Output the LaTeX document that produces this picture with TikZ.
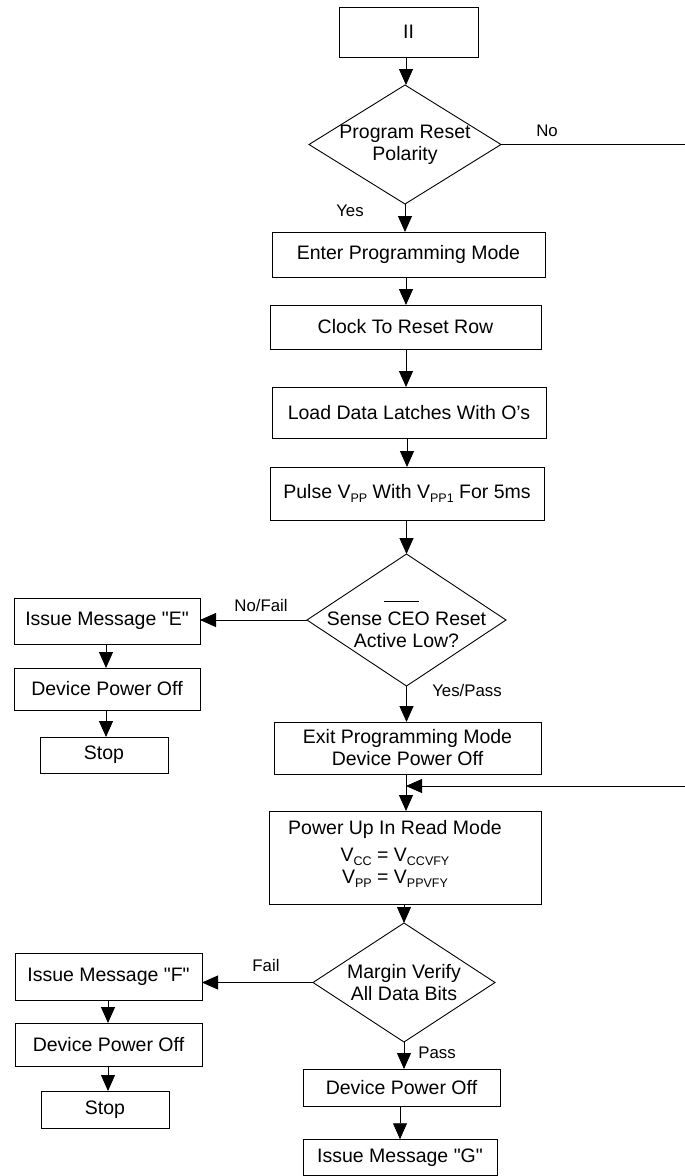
\documentclass[tikz,border=0pt]{standalone}
\usepackage{fontspec}
\setmainfont{Liberation Sans}[Ligatures=TeXOff]
\usetikzlibrary{shapes.geometric,arrows.meta}
\newcommand{\sbs}[1]{\raisebox{-4pt}{\fontsize{12.5}{14}\selectfont #1}}
\newcommand{\ovbar}{\rlap{\hspace{-4pt}\smash{\raisebox{23.5pt}{\rule{35pt}{0.8pt}}}}}
\tikzset{
  every node/.style={font=\fontsize{19.5}{22}\selectfont},
  box/.style={draw, line width=0.9pt, rectangle, inner sep=0pt, outer sep=0pt, align=center},
  dec/.style={draw, line width=0.9pt, diamond, inner sep=0pt, outer sep=0pt},
  lbl/.style={inner sep=0pt, font=\fontsize{16.8}{19}\selectfont},
  arr/.style={line width=0.9pt, -{Triangle[length=16pt,width=14pt]}},
  ln/.style={line width=0.9pt}
}
\begin{document}
\begin{tikzpicture}[x=1pt,y=-1pt]
\useasboundingbox (0,0) rectangle (685,1176);
% main column
\node[box, minimum width=139pt, minimum height=50pt] (ii) at (408.5,32) {II};
\node[dec, minimum width=192pt, minimum height=119pt,
  label={[align=center, inner sep=0pt]center:Program Reset\\Polarity}] (d1) at (405,144.5) {};
\node[box, minimum width=273pt, minimum height=45pt] (enter) at (408.5,254.5) {Enter Programming Mode};
\node[box, minimum width=271pt, minimum height=44pt] (clock) at (405.5,327) {Clock To Reset Row};
\node[box, minimum width=274pt, minimum height=51pt] (load) at (409,412.5) {Load Data Latches With O’s};
\node[box, minimum width=274pt, minimum height=53pt] (pulse) at (407,493.5) {Pulse V\sbs{PP} With V\sbs{PP1} For 5ms};
\node[dec, minimum width=199pt, minimum height=132pt,
  label={[align=center, inner sep=0pt, yshift=-10pt]center:Sense \ovbar CEO Reset\\Active Low?}] (sense) at (406.5,620) {};
\node[box, minimum width=267pt, minimum height=52pt] (exit) at (407.5,748) {Exit Programming Mode\\Device Power Off};
\node[box, minimum width=272pt, minimum height=93pt,
  label={[align=center, inner sep=0pt, xshift=-10pt, yshift=4pt]center:Power Up In Read Mode\\[5pt]V\sbs{CC} = V\sbs{CCVFY}\\V\sbs{PP} = V\sbs{PPVFY}}] (pwr) at (405,857.5) {};
\node[dec, minimum width=182pt, minimum height=119pt,
  label={[align=center, inner sep=0pt]center:Margin Verify\\All Data Bits}] (margin) at (404,982.5) {};
\node[box, minimum width=197pt, minimum height=37pt] (dpo3) at (401.5,1087.5) {Device Power Off};
\node[box, minimum width=194pt, minimum height=36.5pt] (msgg) at (400,1157.5) {Issue Message "G"};
% left column, upper
\node[box, minimum width=186pt, minimum height=46pt] (msge) at (107,621) {Issue Message "E"};
\node[box, minimum width=186pt, minimum height=42pt] (dpo1) at (107,689) {Device Power Off};
\node[box, minimum width=128pt, minimum height=36pt] (stop1) at (104,755) {Stop};
% left column, lower
\node[box, minimum width=187pt, minimum height=47pt] (msgf) at (108.5,976.5) {Issue Message "F"};
\node[box, minimum width=187pt, minimum height=43pt] (dpo2) at (108.5,1044.5) {Device Power Off};
\node[box, minimum width=128pt, minimum height=37pt] (stop2) at (105,1109.5) {Stop};
% labels
\node[lbl] (lno) at (547,131) {No};
\node[lbl] (lyes) at (350,211) {Yes};
\node[lbl] (lnofail) at (261,605) {No/Fail};
\node[lbl] (lyespass) at (467,690) {Yes/Pass};
\node[lbl] (lfail) at (266,965) {Fail};
\node[lbl] (lpass) at (437,1053) {Pass};
% helper coordinates
\coordinate (rt) at (687,786);
\coordinate (jn) at (406,786);
% connectors
\draw[arr] (406,0 |- ii.south) -- (406,0 |- d1.north);
\draw[arr] (d1.south) -- (d1.south |- enter.north);
\draw[arr] (406,0 |- enter.south) -- (406,0 |- clock.north);
\draw[arr] (406,0 |- clock.south) -- (406,0 |- load.north);
\draw[arr] (407,0 |- load.south) -- (407,0 |- pulse.north);
\draw[arr] (sense.north |- pulse.south) -- (sense.north);
\draw[arr] (sense.west) -- (sense.west -| msge.east);
\draw[arr] (106,0 |- msge.south) -- (106,0 |- dpo1.north);
\draw[arr] (106,0 |- dpo1.south) -- (106,0 |- stop1.north);
\draw[arr] (sense.south) -- (sense.south |- exit.north);
\draw[arr] (jn |- exit.south) -- (jn |- pwr.north);
\draw[arr] (d1.east) -- (d1.east -| rt) -- (rt) -- (jn);
\draw[arr] (margin.north |- pwr.south) -- (margin.north);
\draw[arr] (margin.west) -- (margin.west -| msgf.east);
\draw[arr] (108,0 |- msgf.south) -- (108,0 |- dpo2.north);
\draw[arr] (108,0 |- dpo2.south) -- (108,0 |- stop2.north);
\draw[arr] (margin.south) -- (margin.south |- dpo3.north);
\draw[arr] (400,0 |- dpo3.south) -- (400,0 |- msgg.north);
\end{tikzpicture}
\end{document}
